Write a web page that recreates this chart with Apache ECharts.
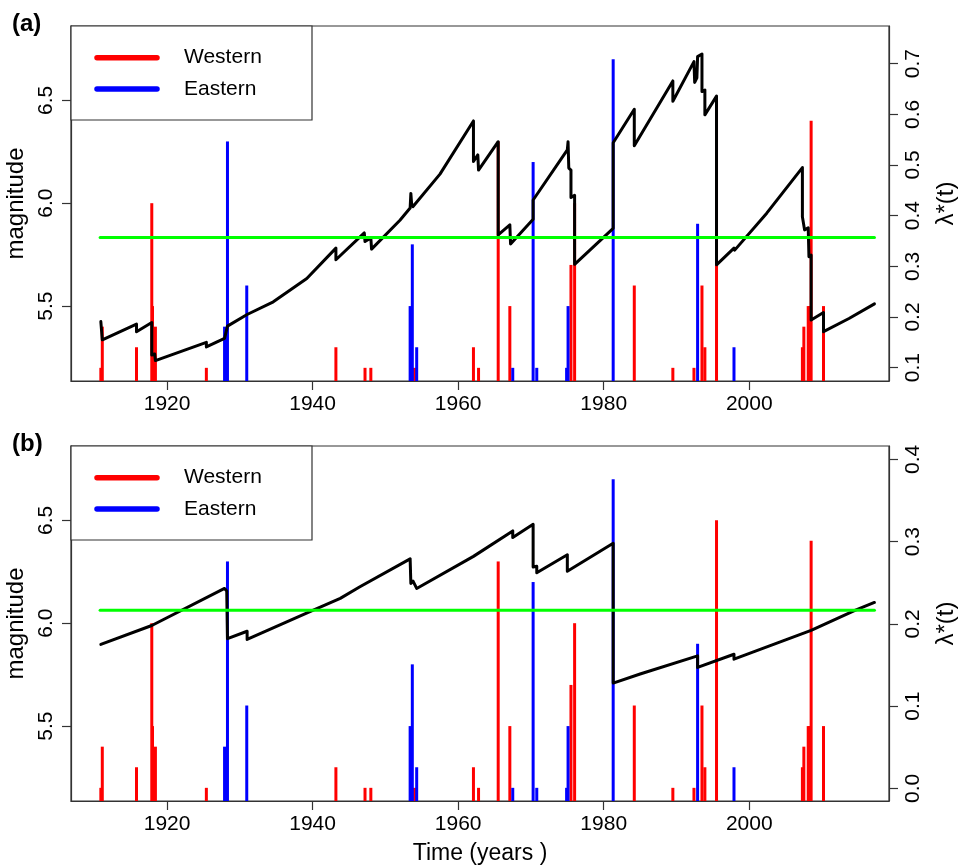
<!DOCTYPE html>
<html><head><meta charset="utf-8">
<script src="https://cdn.jsdelivr.net/npm/echarts@6/dist/echarts.min.js"></script>
<style>html,body{margin:0;padding:0;background:#fff}#c{width:960px;height:866px}</style>
</head><body><div id="c"></div>
<script>
// ---------- data ----------
const xTicks = [1920, 1940, 1960, 1980, 2000];
const magTicks = [5.5, 6.0, 6.5];
const lamTicksA = [0.1, 0.2, 0.3, 0.4, 0.5, 0.6, 0.7];
const lamTicksB = [0.0, 0.1, 0.2, 0.3, 0.4];
const regionNames = ['Western', 'Eastern'];
const panelLabels = ['(a)', '(b)'];

const westernYears = [1910.9, 1911.1, 1915.8, 1917.9, 1918.0, 1918.4, 1925.4, 1943.2, 1947.2, 1948.0,
  1954.0, 1962.1, 1962.8, 1965.5, 1967.1, 1975.5, 1976.0, 1984.2, 1989.5, 1992.4,
  1993.5, 1993.9, 1995.5, 2007.3, 2007.5, 2008.1, 2008.3, 2008.5, 2010.2];
const westernMags = [5.2, 5.4, 5.3, 6.0, 5.5, 5.4, 5.2, 5.3, 5.2, 5.2,
  5.2, 5.3, 5.2, 6.3, 5.5, 5.7, 6.0, 5.6, 5.2, 5.2,
  5.6, 5.3, 6.5, 5.3, 5.4, 5.5, 5.5, 6.4, 5.5];

const easternYears = [1927.9, 1928.1, 1928.3, 1930.95, 1953.4, 1953.7, 1954.3, 1967.5, 1970.3, 1970.8,
  1974.9, 1975.1, 1981.3, 1992.9, 1997.9];
const easternMags = [5.4, 5.2, 6.3, 5.6, 5.5, 5.8, 5.3, 5.2, 6.2, 5.2,
  5.2, 5.5, 6.7, 5.9, 5.3];

const lambdaAYears = [1910.9, 1911.1, 1915.8, 1915.8, 1917.9, 1917.9, 1918.3, 1918.4, 1925.4, 1925.4,
  1927.9, 1928.3, 1931.0, 1934.6, 1939.2, 1943.2, 1943.2, 1947.1, 1947.2, 1948.0,
  1948.1, 1952.0, 1953.4, 1953.5, 1953.6, 1953.8, 1957.5, 1962.1, 1962.1, 1962.7,
  1962.8, 1965.5, 1965.5, 1967.1, 1967.2, 1970.3, 1970.3, 1975.0, 1975.1, 1975.2,
  1975.5, 1975.5, 1976.0, 1976.0, 1981.3, 1981.3, 1984.2, 1984.2, 1989.5, 1989.5,
  1992.4, 1992.5, 1992.8, 1992.9, 1993.5, 1993.5, 1993.9, 1993.9, 1995.5, 1995.5,
  1997.9, 1998.0, 2002.4, 2007.3, 2007.3, 2007.5, 2007.6, 2008.1, 2008.2, 2008.5,
  2008.5, 2010.2, 2010.2, 2013.7, 2017.2];
const lambdaAValues = [0.191, 0.155, 0.186, 0.171, 0.189, 0.125, 0.127, 0.114, 0.150, 0.141,
  0.158, 0.182, 0.205, 0.230, 0.276, 0.336, 0.313, 0.366, 0.349, 0.356,
  0.334, 0.391, 0.415, 0.444, 0.424, 0.418, 0.482, 0.587, 0.507, 0.520,
  0.490, 0.546, 0.362, 0.382, 0.344, 0.393, 0.431, 0.530, 0.546, 0.494,
  0.490, 0.436, 0.440, 0.304, 0.375, 0.544, 0.610, 0.538, 0.666, 0.626,
  0.704, 0.663, 0.672, 0.714, 0.719, 0.645, 0.648, 0.599, 0.636, 0.303,
  0.336, 0.332, 0.405, 0.495, 0.398, 0.400, 0.372, 0.376, 0.319, 0.322,
  0.194, 0.209, 0.171, 0.197, 0.226];

const lambdaBYears = [1910.9, 1917.9, 1927.9, 1928.2, 1928.3, 1931.0, 1931.0, 1940.1, 1943.8, 1946.5,
  1953.4, 1953.5, 1953.8, 1954.3, 1962.1, 1967.5, 1967.5, 1970.3, 1970.3, 1970.8,
  1970.8, 1975.0, 1975.0, 1981.3, 1981.3, 1985.0, 1992.9, 1992.9, 1997.9, 1997.9,
  2008.5, 2014.6, 2017.2];
const lambdaBValues = [0.175, 0.198, 0.243, 0.240, 0.182, 0.191, 0.181, 0.2166, 0.231, 0.245,
  0.279, 0.249, 0.252, 0.243, 0.282, 0.313, 0.305, 0.321, 0.269, 0.270,
  0.262, 0.284, 0.264, 0.298, 0.128, 0.139, 0.161, 0.147, 0.163, 0.157,
  0.192, 0.2166, 0.226];

const meanSpanYears = [1910.8, 2017.2];
const meanLevelA = 0.357;
const meanLevelB = 0.2166;

// ---------- layout / style ----------
const FONT = 'Liberation Sans, Arial, Helvetica, sans-serif';
const X_MIN = 1906.8, X_MAX = 2019.2;
const MAG_MIN = 5.136, MAG_MAX = 6.861;
const LAM_A = [0.0737, 0.7744];
const LAM_B = [-0.0154, 0.4162];
const GRID_L = 71, GRID_W = 818, GRID_H = 355;
const GRID_TOPS = [26, 446];
const AX = '#333';

const pairs = (xs, ys) => xs.map((x, i) => [x, ys[i]]);

function xAxisFor(gi, withName) {
  return {
    type: 'value', gridIndex: gi, min: X_MIN, max: X_MAX,
    axisLine: {show: true, onZero: false, lineStyle: {color: AX, width: 1.2}},
    splitLine: {show: false},
    axisTick: {show: true, length: 9, customValues: xTicks, lineStyle: {color: AX, width: 1.2}},
    axisLabel: {customValues: xTicks, fontSize: 21, color: '#000', margin: 13, fontFamily: FONT,
      formatter: v => String(Math.round(v))},
    name: withName ? 'Time (years )' : '', nameLocation: 'middle', nameGap: 41,
    nameTextStyle: {fontSize: 23, color: '#000', fontFamily: FONT}
  };
}
function yAxisFor(gi, pos, min, max, ticks, name, gap) {
  return {
    type: 'value', gridIndex: gi, position: pos, min: min, max: max,
    axisLine: {show: true, onZero: false, lineStyle: {color: AX, width: 1.2}},
    splitLine: {show: false},
    axisTick: {show: true, length: 9, customValues: ticks, lineStyle: {color: AX, width: 1.2}},
    axisLabel: {customValues: ticks, rotate: 90, fontSize: 21, color: '#000', margin: 14,
      fontFamily: FONT, formatter: v => Number(v).toFixed(1)},
    name: name, nameLocation: 'middle', nameGap: gap, nameRotate: 90,
    nameTextStyle: {fontSize: 24, color: '#000', fontFamily: FONT}
  };
}

function stickSeries(name, color, xs, ys, xi, yi) {
  return {
    type: 'custom', name: name, xAxisIndex: xi, yAxisIndex: yi, clip: true,
    itemStyle: {color: color},
    data: pairs(xs, ys),
    renderItem: function (params, api) {
      const top = api.coord([api.value(0), api.value(1)]);
      const bot = api.coord([api.value(0), MAG_MIN]);
      return {type: 'line', shape: {x1: top[0], y1: top[1], x2: bot[0], y2: bot[1]},
        style: {stroke: color, lineWidth: 3, lineCap: 'butt'}};
    }
  };
}
function lineSeries(xs, ys, xi, yi, color, w) {
  return {
    type: 'line', xAxisIndex: xi, yAxisIndex: yi, data: pairs(xs, ys),
    showSymbol: false, symbol: 'none', silent: true, animation: false,
    lineStyle: {color: color, width: w, cap: 'round', join: 'round'}
  };
}

const series = [];
const graphics = [];
const colors = ['#ff0000', '#0000ff'];
[0, 1].forEach(gi => {
  const yl = gi * 2, yr = gi * 2 + 1;
  series.push(stickSeries(regionNames[0], colors[0], westernYears, westernMags, gi, yl));
  series.push(stickSeries(regionNames[1], colors[1], easternYears, easternMags, gi, yl));
  series.push(lineSeries(gi === 0 ? lambdaAYears : lambdaBYears,
    gi === 0 ? lambdaAValues : lambdaBValues, gi, yr, '#000', 3));
  const lvl = gi === 0 ? meanLevelA : meanLevelB;
  series.push(lineSeries(meanSpanYears, meanSpanYears.map(() => lvl), gi, yr, '#00ff00', 3));

  const top = GRID_TOPS[gi];
  graphics.push({type: 'rect', z: 100, shape: {x: GRID_L, y: top, width: 241, height: 94},
    style: {fill: '#fff', stroke: AX, lineWidth: 1.2}});
  regionNames.forEach((nm, k) => {
    const yy = top + 31.7 + k * 31.3;
    graphics.push({type: 'line', z: 101, shape: {x1: 97, y1: yy, x2: 157, y2: yy},
      style: {stroke: colors[k], lineWidth: 5.5, lineCap: 'round'}});
    graphics.push({type: 'text', z: 101, x: 184, y: yy,
      style: {text: nm, font: '21px ' + FONT, fill: '#000', verticalAlign: 'middle', align: 'left'}});
  });
  graphics.push({type: 'text', z: 101, x: 12, y: top - 2,
    style: {text: panelLabels[gi], font: 'bold 24px ' + FONT, fill: '#000', verticalAlign: 'middle', align: 'left'}});
});

const chart = echarts.init(document.getElementById('c'), null, {renderer: 'canvas'});
chart.setOption({
  animation: false,
  backgroundColor: '#fff',
  grid: GRID_TOPS.map(t => ({left: GRID_L, top: t, width: GRID_W, height: GRID_H,
    outerBoundsMode: 'none', containLabel: false,
    show: true, borderColor: AX, borderWidth: 1.2, backgroundColor: 'transparent'})),
  xAxis: [xAxisFor(0, false), xAxisFor(1, true)],
  yAxis: [
    yAxisFor(0, 'left', MAG_MIN, MAG_MAX, magTicks, 'magnitude', 41),
    yAxisFor(0, 'right', LAM_A[0], LAM_A[1], lamTicksA, 'λ*(t)', 45),
    yAxisFor(1, 'left', MAG_MIN, MAG_MAX, magTicks, 'magnitude', 41),
    yAxisFor(1, 'right', LAM_B[0], LAM_B[1], lamTicksB, 'λ*(t)', 45)
  ],
  series: series,
  graphic: graphics
});
</script></body></html>
